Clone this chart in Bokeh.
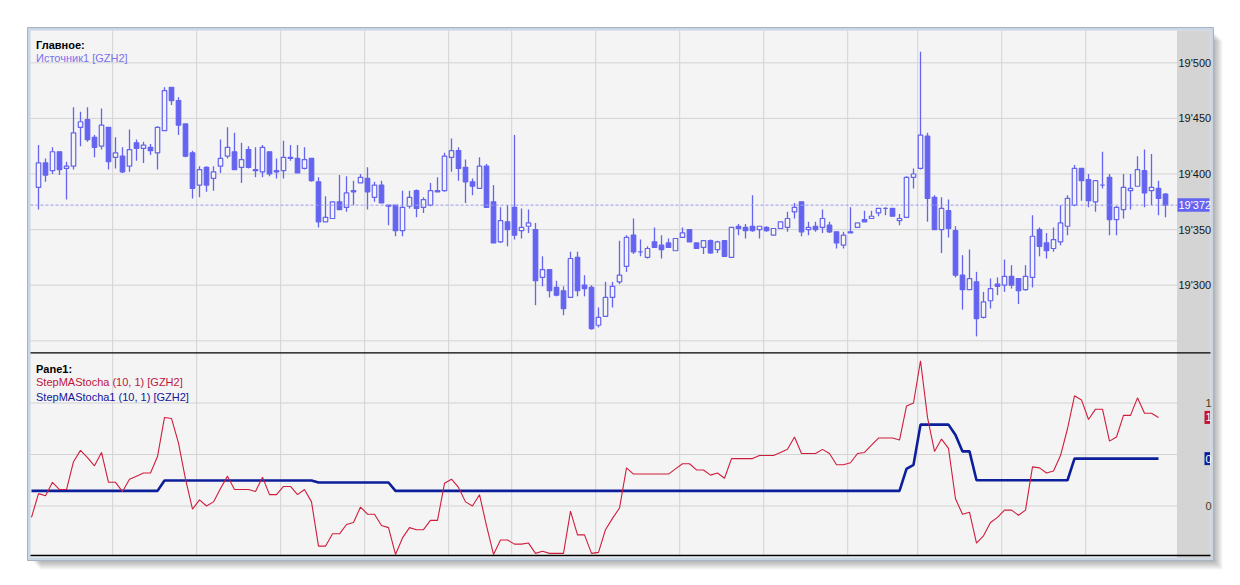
import numpy as np
from bokeh.plotting import figure
from bokeh.models import Range1d
from bokeh.core.properties import value
from bokeh.embed import file_html
from bokeh.resources import INLINE

# ---------------- data ----------------
opens = [19388, 19410, 19403, 19420, 19405, 19407, 19442, 19449, 19433, 19425,
         19442, 19415, 19416, 19407, 19428, 19423, 19424, 19419, 19439, 19478,
         19466, 19445, 19419, 19390, 19406, 19396, 19407, 19416, 19420, 19406,
         19422, 19404, 19402, 19420, 19403, 19403, 19415, 19414, 19405, 19414,
         19393, 19357, 19360, 19375, 19370, 19385, 19392, 19396, 19379, 19390,
         19372, 19372, 19349, 19371, 19385, 19370, 19372, 19384, 19385, 19415,
         19421, 19406, 19393, 19387, 19407, 19375, 19339, 19357, 19370, 19349,
         19353, 19350, 19307, 19314, 19298, 19295, 19289, 19325, 19300, 19298,
         19264, 19272, 19289, 19303, 19317, 19345, 19330, 19325, 19339, 19336,
         19338, 19331, 19343, 19350, 19338, 19334, 19340, 19332, 19340, 19325,
         19353, 19352, 19353, 19350, 19352, 19345, 19351, 19352, 19366, 19375,
         19350, 19353, 19352, 19354, 19348, 19336, 19348, 19352, 19359, 19360,
         19365, 19369, 19369, 19358, 19361, 19397, 19405, 19434, 19379, 19350,
         19367, 19349, 19309, 19296, 19303, 19271, 19286, 19301, 19300, 19308,
         19306, 19296, 19307, 19350, 19338, 19333, 19339, 19353, 19372, 19405,
         19395, 19375, 19390, 19397, 19359, 19368, 19385, 19389, 19403, 19385,
         19387, 19382]
highs = [19426, 19414, 19424, 19420, 19411, 19460, 19456, 19460, 19435, 19459,
         19442, 19433, 19424, 19440, 19431, 19429, 19427, 19443, 19478, 19478,
         19469, 19445, 19421, 19407, 19407, 19407, 19431, 19442, 19437, 19428,
         19425, 19424, 19426, 19420, 19414, 19430, 19426, 19426, 19424, 19414,
         19397, 19380, 19375, 19399, 19398, 19394, 19400, 19406, 19393, 19394,
         19372, 19372, 19385, 19385, 19386, 19379, 19392, 19397, 19419, 19432,
         19424, 19413, 19396, 19415, 19409, 19390, 19370, 19372, 19435, 19369,
         19368, 19356, 19326, 19314, 19304, 19299, 19330, 19330, 19309, 19300,
         19280, 19303, 19303, 19340, 19345, 19360, 19341, 19335, 19352, 19345,
         19342, 19342, 19352, 19350, 19338, 19340, 19341, 19340, 19340, 19352,
         19355, 19355, 19381, 19353, 19353, 19351, 19357, 19366, 19374, 19375,
         19357, 19357, 19368, 19357, 19348, 19348, 19370, 19356, 19367, 19367,
         19369, 19370, 19369, 19364, 19398, 19405, 19510, 19437, 19381, 19379,
         19377, 19353, 19327, 19332, 19312, 19294, 19306, 19307, 19323, 19318,
         19306, 19318, 19363, 19352, 19347, 19352, 19372, 19381, 19408, 19405,
         19400, 19394, 19420, 19400, 19371, 19400, 19400, 19416, 19422, 19418,
         19394, 19383]
lows = [19368, 19393, 19400, 19399, 19377, 19404, 19425, 19429, 19415, 19422,
        19404, 19405, 19401, 19402, 19412, 19410, 19417, 19404, 19439, 19462,
        19435, 19415, 19378, 19379, 19384, 19385, 19401, 19414, 19404, 19392,
        19405, 19397, 19397, 19398, 19396, 19396, 19412, 19401, 19404, 19393,
        19352, 19357, 19360, 19368, 19366, 19372, 19392, 19368, 19375, 19374,
        19354, 19344, 19344, 19369, 19361, 19365, 19371, 19384, 19384, 19402,
        19394, 19374, 19381, 19387, 19370, 19338, 19338, 19335, 19341, 19342,
        19347, 19282, 19299, 19289, 19290, 19273, 19289, 19290, 19290, 19260,
        19262, 19272, 19280, 19301, 19312, 19328, 19326, 19324, 19334, 19324,
        19334, 19331, 19343, 19339, 19333, 19328, 19328, 19329, 19326, 19325,
        19345, 19342, 19348, 19342, 19348, 19345, 19351, 19348, 19360, 19344,
        19345, 19348, 19347, 19347, 19333, 19333, 19347, 19352, 19357, 19360,
        19362, 19363, 19362, 19354, 19361, 19387, 19404, 19357, 19350, 19329,
        19343, 19307, 19278, 19296, 19254, 19270, 19279, 19291, 19294, 19297,
        19283, 19295, 19298, 19326, 19324, 19330, 19336, 19345, 19371, 19376,
        19370, 19366, 19387, 19345, 19345, 19360, 19368, 19389, 19370, 19372,
        19363, 19361]
closes = [19410, 19399, 19420, 19404, 19407, 19437, 19447, 19431, 19424, 19444,
          19411, 19419, 19402, 19422, 19423, 19426, 19421, 19442, 19475, 19466,
          19444, 19416, 19387, 19404, 19390, 19402, 19414, 19424, 19404, 19413,
          19406, 19403, 19424, 19400, 19402, 19415, 19414, 19401, 19413, 19394,
          19357, 19361, 19375, 19368, 19383, 19384, 19397, 19384, 19390, 19374,
          19371, 19349, 19370, 19379, 19369, 19377, 19385, 19385, 19416, 19421,
          19405, 19393, 19389, 19407, 19370, 19338, 19358, 19350, 19345, 19352,
          19356, 19304, 19314, 19295, 19291, 19279, 19324, 19295, 19297, 19261,
          19271, 19289, 19299, 19309, 19343, 19330, 19330, 19333, 19334, 19332,
          19334, 19342, 19347, 19339, 19333, 19340, 19329, 19339, 19326, 19352,
          19351, 19349, 19349, 19353, 19349, 19351, 19357, 19360, 19370, 19348,
          19352, 19350, 19360, 19348, 19338, 19345, 19347, 19356, 19357, 19362,
          19369, 19369, 19362, 19360, 19397, 19400, 19435, 19378, 19350, 19369,
          19351, 19309, 19296, 19306, 19270, 19285, 19297, 19299, 19308, 19300,
          19295, 19308, 19344, 19335, 19331, 19341, 19356, 19378, 19405, 19394,
          19376, 19394, 19390, 19359, 19370, 19388, 19387, 19404, 19383, 19388,
          19378, 19372]

# oscillator values, first value belongs to the bar just left of the first candle
osc_start = -1
stoch_main = [-0.11,
              0.12, 0.10, 0.23, 0.16, 0.16, 0.43, 0.54, 0.47, 0.39, 0.52,
              0.23, 0.23, 0.14, 0.26, 0.29, 0.32, 0.32, 0.48, 0.86, 0.85,
              0.61, 0.26, -0.03, 0.06, 0.00, 0.04, 0.17, 0.29, 0.16, 0.16,
              0.16, 0.14, 0.28, 0.11, 0.11, 0.19, 0.19, 0.11, 0.16, 0.04,
              -0.39, -0.39, -0.27, -0.27, -0.18, -0.16, -0.01, -0.08, -0.08, -0.19,
              -0.21, -0.47, -0.31, -0.21, -0.23, -0.23, -0.14, -0.14, 0.22, 0.26,
              0.18, 0.04, 0.00, 0.11, -0.19, -0.47, -0.33, -0.33, -0.37, -0.37,
              -0.36, -0.46, -0.44, -0.46, -0.46, -0.46, -0.05, -0.28, -0.28, -0.46,
              -0.45, -0.23, -0.12, -0.02, 0.37, 0.31, 0.31, 0.31, 0.31, 0.31,
              0.31, 0.36, 0.41, 0.41, 0.35, 0.35, 0.30, 0.32, 0.27, 0.46,
              0.46, 0.46, 0.46, 0.49, 0.49, 0.49, 0.52, 0.55, 0.67, 0.51,
              0.51, 0.51, 0.55, 0.51, 0.40, 0.40, 0.42, 0.51, 0.52, 0.59,
              0.66, 0.66, 0.66, 0.64, 0.97, 1.00, 1.41, 0.86, 0.53, 0.65,
              0.56, 0.07, -0.08, -0.06, -0.36, -0.29, -0.16, -0.11, -0.04, -0.04,
              -0.09, -0.04, 0.38, 0.37, 0.32, 0.34, 0.49, 0.75, 1.07, 1.03,
              0.84, 0.94, 0.94, 0.63, 0.67, 0.88, 0.88, 1.05, 0.90, 0.90,
              0.86]
stoch_signal = ([0.147] * 19 + [0.248] * 22 + [0.228] * 11 + [0.147] * 73 +
                [0.36, 0.40] + [0.79] * 5 + [0.69, 0.53, 0.53] + [0.25] * 14 +
                [0.46] * 13)

price_ticks = [19300, 19350, 19400, 19450, 19500]
price_grid = [19250, 19300, 19350, 19400, 19450, 19500]
osc_grid = [0, 0.5, 1]
osc_labels = [0, 1]
grid_bars = [10, 22, 34, 46, 58, 67, 79, 91, 103, 115, 125, 137, 149]

title_main = "Главное:"
source_name = "Источник1 [GZH2]"
title_pane = "Pane1:"
series_names = ["StepMAStocha (10, 1) [GZH2]", "StepMAStocha1 (10, 1) [GZH2]"]

# ---------------- layout helpers (page pixels -> data) ----------------
PAGE = 0
W, H = 1236, 582
BAR0, BARW = 38.0, 7.0            # page x of first bar, px per bar
PX_PER_PT, Y19500 = 1.112, 62.3   # price scale
Y_OSC0, PX_PER_OSC = 505.5, 103.0 # oscillator scale


def X(px):
    return (px - BAR0) / BARW


def P(py):
    return 19500 - (py - Y19500) / PX_PER_PT


def O(py):
    return (Y_OSC0 - py) / PX_PER_OSC


def pts(px):
    return px / PX_PER_PT


L, R, T, B = 30, 1210, 30, 557     # chart panel
AX = 1176.5                        # price-scale column
SEP, BOT = 352.3, 555.0

FONT = value("Liberation Sans")
BLUE = "#6464f0"
BG = "#f4f4f4"

p = figure(width=W, height=H, output_backend="svg", toolbar_location=None,
           x_range=Range1d(X(PAGE), X(PAGE + W)),
           y_range=Range1d(P(PAGE + H), P(PAGE)),
           x_axis_location=None, y_axis_location=None,
           min_border=0, background_fill_color="white",
           border_fill_color="white", outline_line_color=None)
p.extra_y_ranges = {"osc": Range1d(O(PAGE + H), O(PAGE))}
p.grid.visible = False

# shadow
for k in range(1, 11):
    p.quad(left=[X(L + k)], right=[X(R + 2 + k)], top=[P(T + k)],
           bottom=[P(B + 2 + k)], fill_color="black", fill_alpha=0.035,
           line_color=None)
# frame
p.quad(left=[X(L - 3)], right=[X(R + 3)], top=[P(T - 3)], bottom=[P(B + 3)],
       fill_color="#c9d6e6", line_color="#a8b4c4", line_width=1)
p.quad(left=[X(L)], right=[X(R)], top=[P(T)], bottom=[P(B)],
       fill_color=BG, line_color=None)
# price column
p.quad(left=[X(AX)], right=[X(R)], top=[P(T)], bottom=[P(B + 1)],
       fill_color="#d4d4d4", line_color=None)

GRID = "#d3d3d3"
# vertical grid
gx = [X(BAR0 + BARW * (g + 0.6)) for g in grid_bars]
p.segment(x0=gx, x1=gx, y0=[P(T)] * len(gx), y1=[P(BOT)] * len(gx),
          line_color=GRID, line_width=1)
# horizontal grid, price pane
p.segment(x0=[X(L)] * len(price_grid), x1=[X(AX)] * len(price_grid),
          y0=price_grid, y1=price_grid, line_color=GRID, line_width=1)
# horizontal grid, oscillator pane
p.segment(x0=[X(L)] * len(osc_grid), x1=[X(AX)] * len(osc_grid),
          y0=osc_grid, y1=osc_grid, line_color=GRID, line_width=1,
          y_range_name="osc")

# candles
idx = np.arange(len(opens))
o = np.array(opens); c = np.array(closes)
hi = np.array(highs); lo = np.array(lows)
up = c >= o
p.segment(x0=idx, x1=idx, y0=hi, y1=lo, line_color=BLUE, line_width=1.3)
p.vbar(x=idx, width=0.64, top=np.maximum(o, c), bottom=np.minimum(o, c),
       fill_color=[BG if u else BLUE for u in up], line_color=BLUE,
       line_width=1.2)

# last price dashed line
last = closes[-1]
p.segment(x0=[X(L)], x1=[X(AX)], y0=[last], y1=[last], line_color="#9a9aee",
          line_width=1, line_dash="3 2")

# oscillator lines
ox = np.arange(osc_start, osc_start + len(stoch_main))
p.line(ox, stoch_signal, line_color="#0c1e9a", line_width=2.6,
       y_range_name="osc")
p.line(ox, stoch_main, line_color="#cf1d3d", line_width=1.1,
       y_range_name="osc")

# pane separators
p.segment(x0=[X(L), X(L)], x1=[X(R), X(R)], y0=[P(SEP), P(BOT)],
          y1=[P(SEP), P(BOT)], line_color="black", line_width=1.3)

# price labels
fmt = lambda v: f"{v:,}".replace(",", "'")
p.text(x=[X(AX + 1.5)] * len(price_ticks), y=price_ticks,
       text=[fmt(t) for t in price_ticks], text_font=FONT,
       text_font_size="11px", text_color="#151515", text_baseline="middle",
       text_align="left")
p.quad(left=[X(AX + 0.5)], right=[X(R - 1)], top=[last + pts(7)],
       bottom=[last - pts(6.5)], fill_color=BLUE, line_color=None)
p.text(x=[X(AX + 1.5)], y=[last], text=[fmt(last)], text_font=FONT,
       text_font_size="11px", text_color="white", text_baseline="middle",
       text_align="left")

# oscillator labels
p.text(x=[X(1205)] * len(osc_labels), y=osc_labels,
       text=[str(v) for v in osc_labels], text_font=FONT, text_font_size="11px",
       text_color="#4a3a20", text_baseline="middle", text_align="left",
       y_range_name="osc")
for val, col in ((stoch_main[-1], "#c8102e"), (stoch_signal[-1], "#0c1e9a")):
    p.quad(left=[X(1204)], right=[X(1209.5)], top=[val + 6.5 / PX_PER_OSC],
           bottom=[val - 6.5 / PX_PER_OSC], fill_color=col, line_color=None,
           y_range_name="osc")
    p.text(x=[X(1205)], y=[val], text=[str(round(val))], text_font=FONT,
           text_font_size="11px", text_color="white", text_baseline="middle",
           text_align="left", y_range_name="osc")

# legends
TX = X(35.5)
p.text(x=[TX], y=[P(44)], text=[title_main], text_font=FONT,
       text_font_size="11px", text_font_style="bold", text_color="black",
       text_baseline="middle")
p.text(x=[TX], y=[P(57.5)], text=[source_name], text_font=FONT,
       text_font_size="11px", text_color="#7a70ee", text_baseline="middle")
p.text(x=[TX], y=[P(368.5)], text=[title_pane], text_font=FONT,
       text_font_size="11px", text_font_style="bold", text_color="black",
       text_baseline="middle")
p.text(x=[TX], y=[P(381.5)], text=[series_names[0]], text_font=FONT,
       text_font_size="11px", text_color="#c0143c", text_baseline="middle")
p.text(x=[TX], y=[P(396)], text=[series_names[1]], text_font=FONT,
       text_font_size="11px", text_color="#14149a", text_baseline="middle")

open("out.html", "w").write(file_html(p, INLINE))
